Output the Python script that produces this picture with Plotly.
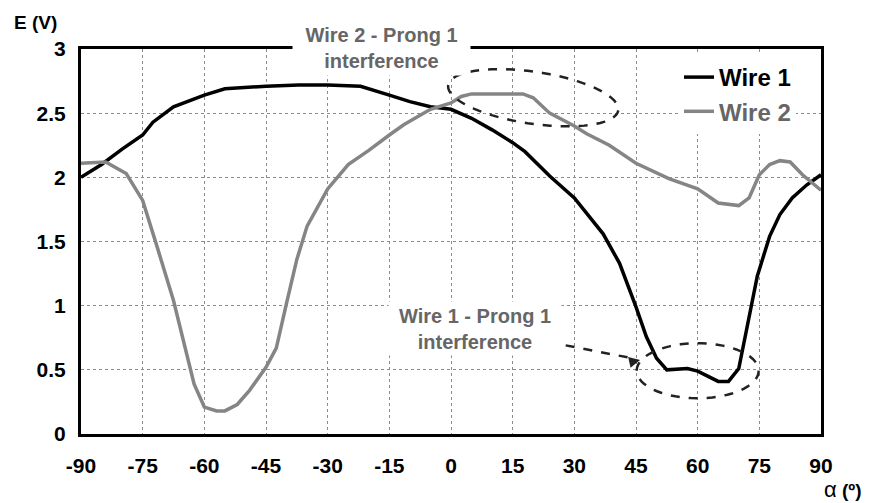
import numpy as np
import plotly.graph_objects as go

# ---------------- data ----------------
wire1_x = [-90, -85, -80, -75, -72.5, -67.5, -60, -55, -45, -37, -30, -22, -15, -10, -5, 0,
           5, 10, 15, 18, 24, 30, 37, 41, 45, 47.5, 50, 52.5, 57.5, 60, 65, 67.5, 70, 72.5,
           74.5, 77.5, 80, 83, 86.5, 90]
wire1_y = [2.00, 2.10, 2.22, 2.33, 2.43, 2.55, 2.64, 2.69, 2.71, 2.72, 2.72, 2.71, 2.64, 2.59,
           2.55, 2.53, 2.46, 2.37, 2.27, 2.20, 2.01, 1.84, 1.56, 1.33, 0.99, 0.76, 0.59, 0.50,
           0.51, 0.49, 0.41, 0.41, 0.51, 0.91, 1.23, 1.54, 1.71, 1.84, 1.94, 2.02]

wire2_x = [-90, -84, -79, -75, -71.5, -67.5, -62.5, -60, -57, -55, -52, -49, -45, -42.5, -40,
           -37.5, -35, -32, -30, -25, -20, -15, -11.5, -5, 0, 2.5, 5, 10, 15, 17.5, 20, 24, 30,
           33, 38.5, 45, 53, 60, 65, 70, 72.5, 75, 77.5, 80, 82.5, 85.5, 90]
wire2_y = [2.11, 2.12, 2.03, 1.82, 1.46, 1.04, 0.39, 0.21, 0.18, 0.18, 0.23, 0.34, 0.52, 0.67,
           1.02, 1.36, 1.62, 1.80, 1.91, 2.10, 2.21, 2.33, 2.41, 2.53, 2.58, 2.63, 2.65, 2.65,
           2.65, 2.65, 2.62, 2.50, 2.40, 2.34, 2.25, 2.11, 1.99, 1.91, 1.80, 1.78, 1.84, 2.02,
           2.10, 2.13, 2.12, 2.02, 1.90]

x_ticks = [-90, -75, -60, -45, -30, -15, 0, 15, 30, 45, 60, 75, 90]
y_ticks = [0, 0.5, 1, 1.5, 2, 2.5, 3]
y_tick_text = ["0", "0.5", "1", "1.5", "2", "2.5", "3"]

# ---------------- layout geometry ----------------
OFF = 8                      # page body margin offset
WIN_W, WIN_H = 869, 503
W, H = WIN_W - OFF, WIN_H - OFF
PL, PR, PT, PB = 81, 821, 49, 434   # desired plot area in window pixels
ML = PL - OFF
MT = PT - OFF
MR = W - (PR - OFF)
MB = H - (PB - OFF)
PW = PR - PL
PH = PB - PT
XR = [-90, 90]
YR = [0, 3]
PXX = PW / (XR[1] - XR[0])
PXY = PH / (YR[1] - YR[0])


def to_paper(px, py):
    return (px - PL) / PW, (PB - py) / PH


FONT = "Liberation Sans, Arial, sans-serif"
BLACK = "#000000"
GREY = "#858585"
TXT_GREY = "#666666"
DASH_C = "#222222"


def ellipse_path(cx, cy, a_px, b_px, ang_deg, n=72):
    t = np.linspace(0, 2 * np.pi, n)
    th = np.deg2rad(ang_deg)
    sx = a_px * np.cos(t) * np.cos(th) - b_px * np.sin(t) * np.sin(th)
    sy = a_px * np.cos(t) * np.sin(th) + b_px * np.sin(t) * np.cos(th)
    xs = cx + sx / PXX
    ys = cy - sy / PXY
    pts = [f"{x:.3f},{y:.4f}" for x, y in zip(xs, ys)]
    return "M" + " L".join(pts) + " Z"


fig = go.Figure()
fig.add_trace(go.Scatter(x=wire1_x, y=wire1_y, mode="lines", name="Wire 1",
                         line=dict(color=BLACK, width=3.5)))
fig.add_trace(go.Scatter(x=wire2_x, y=wire2_y, mode="lines",
                         name=f"<span style='color:{TXT_GREY}'>Wire 2</span>",
                         line=dict(color=GREY, width=3.5)))

# ellipses (dashed)
fig.add_shape(type="path", path=ellipse_path(20.0, 2.62, 86, 26, 8.4),
              line=dict(color=DASH_C, width=2.5, dash="dash"), xref="x", yref="y")
fig.add_shape(type="path", path=ellipse_path(60.0, 0.493, 61, 27.5, 0),
              line=dict(color=DASH_C, width=2.5, dash="dash"), xref="x", yref="y")
# dashed arrow shaft
fig.add_shape(type="line", x0=23.6, y0=0.717, x1=45.0, y1=0.585,
              line=dict(color=DASH_C, width=2.5, dash="dash"), xref="x", yref="y")

a1x, a1y = to_paper(381.5, 48)
a2x, a2y = to_paper(475, 328.5)
ex, ey = to_paper(35, 22)
ax_, ay_ = to_paper(843, 489)

annotations = [
    dict(x=a1x, y=a1y, xref="paper", yref="paper", xanchor="center", yanchor="middle",
         text="<b>Wire 2 - Prong 1<br>interference</b>",
         showarrow=False, font=dict(family=FONT, size=20, color=TXT_GREY),
         bgcolor="white", borderpad=0, width=177, height=54, align="center", valign="middle"),
    dict(x=a2x, y=a2y, xref="paper", yref="paper", xanchor="center", yanchor="middle",
         text="<b>Wire 1 - Prong 1<br>interference</b>",
         showarrow=False, font=dict(family=FONT, size=20, color=TXT_GREY),
         bgcolor="white", borderpad=0, width=172, height=53, align="center", valign="middle"),
    # arrow head
    dict(x=46.0, y=0.577, xref="x", yref="y", ax=-9, ay=2, text="", showarrow=True,
         arrowhead=2, arrowsize=1.1, arrowwidth=2, arrowcolor=DASH_C),
    dict(x=ex, y=ey, xref="paper", yref="paper", xanchor="center", yanchor="middle",
         text="<b>E (V)</b>", showarrow=False,
         font=dict(family=FONT, size=19, color=BLACK)),
    dict(x=ax_, y=ay_, xref="paper", yref="paper", xanchor="center", yanchor="middle",
         text="<span style='font-size:22px'>α</span> <b>(º)</b>", showarrow=False,
         font=dict(family=FONT, size=19, color=BLACK)),
]
fig.update_layout(annotations=annotations)

lgx, lgy = to_paper(679, 55)

fig.update_layout(
    width=W, height=H,
    margin=dict(l=ML, r=MR, t=MT, b=MB),
    paper_bgcolor="white", plot_bgcolor="white",
    font=dict(family=FONT, size=21, color=BLACK),
    showlegend=True,
    legend=dict(x=lgx, y=lgy, xanchor="left", yanchor="top", bgcolor="white",
                font=dict(family=FONT, size=24, color=BLACK, weight="bold"),
                tracegroupgap=0, itemwidth=30),
    xaxis=dict(range=XR, tickvals=x_ticks, ticktext=[f"<b>{v}</b>" for v in x_ticks],
               showgrid=True, gridcolor="#8c8c8c", griddash="dot", gridwidth=1,
               zeroline=False, showline=True, linecolor=BLACK, linewidth=3, mirror=True,
               ticks="outside", ticklen=11, tickcolor="rgba(0,0,0,0)",
               tickfont=dict(family=FONT, size=21, color=BLACK)),
    yaxis=dict(range=YR, tickvals=y_ticks, ticktext=[f"<b>{t}</b>" for t in y_tick_text],
               showgrid=True, gridcolor="#8c8c8c", griddash="dot", gridwidth=1,
               zeroline=False, showline=True, linecolor=BLACK, linewidth=3, mirror=True,
               ticks="outside", ticklen=8, tickcolor="rgba(0,0,0,0)",
               tickfont=dict(family=FONT, size=21, color=BLACK)),
)

fig.write_html("out.html")
